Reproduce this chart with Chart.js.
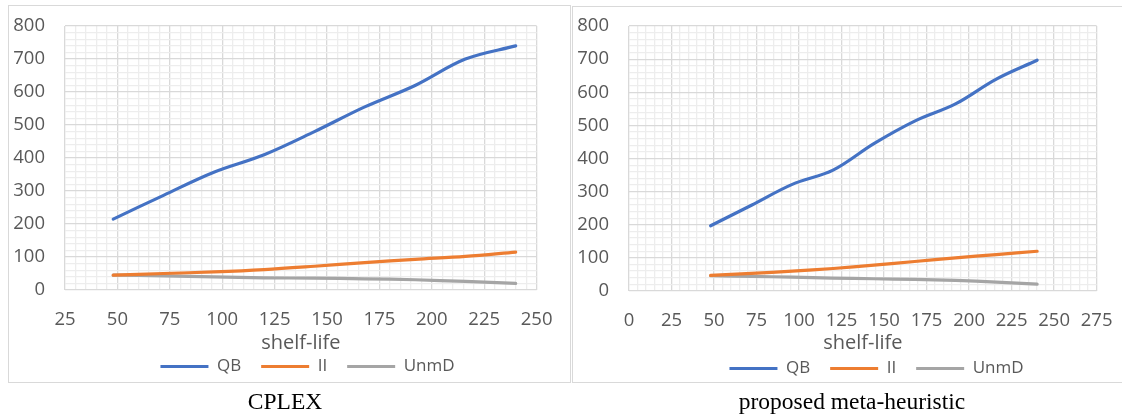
<!DOCTYPE html>
<html lang="en">
<head>
    <meta charset="UTF-8">
    <title>Shelf-life comparison</title>
    <script src="https://cdn.jsdelivr.net/npm/chart.js"></script>
    <style>
        body {
            margin: 0;
            width: 1122px;
            height: 420px;
            background: #ffffff;
            position: relative;
            overflow: hidden;
        }
        .panel {
            position: absolute;
            box-sizing: border-box;
            border: 1px solid #d9d9d9;
        }
        .panel canvas {
            position: absolute;
            left: -1px;
        }
        .caption {
            position: absolute;
            top: 388px;
            font-family: "Liberation Serif", "Times New Roman", serif;
            font-size: 23.5px;
            color: #000;
            transform: translateX(-50%);
            white-space: nowrap;
        }
    </style>
</head>
<body>
    <div class="panel" style="left:8px; top:5px; width:563px; height:378px;">
        <canvas id="cplexChart" width="563" height="410" style="top:-11px;"></canvas>
    </div>
    <div class="panel" style="left:572px; top:6px; width:560px; height:377px;">
        <canvas id="metaChart" width="559" height="410" style="top:-12px;"></canvas>
    </div>
    <div class="caption" style="left:285px;">CPLEX</div>
    <div class="caption" style="left:852px;">proposed meta-heuristic</div>

    <script>
        // shelf-life values (x) shared by both charts
        const shelfLife = [48, 72, 96, 120, 144, 168, 192, 216, 240];

        // CPLEX results
        const cplexQB = [215, 287, 357, 410, 480, 555, 620, 700, 740];
        const cplexII = [45, 50, 55, 62, 72, 83, 93, 102, 115];
        const cplexUnmD = [45, 43, 40, 37, 36, 34, 31, 26, 20];

        // meta-heuristic results
        const metaQB = [197, 259, 322, 365, 445, 513, 565, 640, 697];
        const metaII = [47, 53, 60, 68, 78, 89, 100, 110, 120];
        const metaUnmD = [46, 44, 42, 39, 37, 35, 32, 27, 21];

        const seriesNames = ['QB', 'II', 'UnmD'];
        const seriesColors = ['#4472C4', '#ED7D31', '#A5A5A5'];

        // axis ranges / tick steps
        const cplexXRange = [25, 250];
        const metaXRange = [0, 275];
        const yRange = [0, 800];
        const xStep = 25, xMinorStep = 5;
        const yStep = 100, yMinorStep = 20;

        const textColor = '#595959';
        const majorGrid = '#d9d9d9';
        const minorGrid = '#ededed';
        const uiFont = '"Open Sans", "Liberation Sans", sans-serif';

        // moves the legend after layout so it can sit close under the axis title
        const legendShift = {
            id: 'legendShift',
            afterLayout(chart, args, opts) {
                const lg = chart.legend;
                if (!lg) return;
                lg.left += opts.dx; lg.right += opts.dx;
                lg.top += opts.dy; lg.bottom += opts.dy;
            }
        };

        function toPoints(values) {
            return shelfLife.map((x, i) => ({ x: x, y: values[i] }));
        }

        function makeChart(id, seriesValues, xRange, cfg) {
            const datasets = seriesValues.map((vals, i) => ({
                label: seriesNames[i],
                data: toPoints(vals),
                borderColor: seriesColors[i],
                backgroundColor: seriesColors[i],
                borderWidth: 3.2,
                borderCapStyle: 'round',
                pointRadius: 0,
                tension: 0.35,
                fill: false,
                order: i
            }));

            const ctx = document.getElementById(id).getContext('2d');
            return new Chart(ctx, {
                type: 'line',
                data: { datasets: datasets },
                options: {
                    responsive: false,
                    animation: false,
                    layout: {
                        padding: { top: 0, right: 0, left: 0, bottom: 0 }
                    },
                    scales: {
                        x: {
                            type: 'linear',
                            min: xRange[0],
                            max: xRange[1],
                            afterFit: s => { s.height = cfg.xHeight; },
                            ticks: {
                                stepSize: xStep,
                                color: textColor,
                                padding: 18.5,
                                maxRotation: 0,
                                font: { family: uiFont, size: 18.5 }
                            },
                            grid: { color: majorGrid, lineWidth: 1.3, drawTicks: false },
                            border: { display: false },
                            title: {
                                display: true,
                                text: 'shelf-life',
                                color: textColor,
                                padding: { top: 0, bottom: cfg.titlePad },
                                font: { family: uiFont, size: 20 }
                            }
                        },
                        xm: {
                            type: 'linear',
                            position: 'bottom',
                            min: xRange[0],
                            max: xRange[1],
                            afterFit: s => { s.height = 0; },
                            ticks: { display: false, stepSize: xMinorStep },
                            grid: {
                                drawTicks: false,
                                lineWidth: 1.3,
                                color: c => (Math.round(c.tick.value) % xStep === 0) ? 'rgba(0,0,0,0)' : minorGrid
                            },
                            border: { display: false }
                        },
                        y: {
                            min: yRange[0],
                            max: yRange[1],
                            afterFit: s => { s.width = cfg.yWidth; },
                            ticks: {
                                stepSize: yStep,
                                color: textColor,
                                padding: 20,
                                font: { family: uiFont, size: 18.5 }
                            },
                            grid: { color: majorGrid, lineWidth: 1.3, drawTicks: false },
                            border: { display: false }
                        },
                        ym: {
                            position: 'left',
                            min: yRange[0],
                            max: yRange[1],
                            afterFit: s => { s.width = 0; },
                            ticks: { display: false, stepSize: yMinorStep },
                            grid: {
                                drawTicks: false,
                                lineWidth: 1.3,
                                color: c => (Math.round(c.tick.value) % yStep === 0) ? 'rgba(0,0,0,0)' : minorGrid
                            },
                            border: { display: false }
                        }
                    },
                    plugins: {
                        tooltip: { enabled: false },
                        legend: {
                            position: 'bottom',
                            labels: {
                                boxWidth: 48,
                                boxHeight: 3,
                                padding: 20,
                                color: textColor,
                                font: { family: uiFont, size: 17 },
                                generateLabels: chart => {
                                    const items = Chart.defaults.plugins.legend.labels.generateLabels(chart);
                                    items.forEach(it => { it.lineWidth = 0; it.fillStyle = it.strokeStyle; });
                                    return items;
                                }
                            }
                        },
                        legendShift: { dx: cfg.legendDx, dy: cfg.legendDy }
                    }
                },
                plugins: [legendShift]
            });
        }

        makeChart('cplexChart', [cplexQB, cplexII, cplexUnmD], cplexXRange, {
            yWidth: 57, xHeight: 68, titlePad: 3,
            legendDx: 18, legendDy: -20
        });

        makeChart('metaChart', [metaQB, metaII, metaUnmD], metaXRange, {
            yWidth: 57, xHeight: 67, titlePad: 3,
            legendDx: 25, legendDy: -18
        });
    </script>
</body>
</html>
